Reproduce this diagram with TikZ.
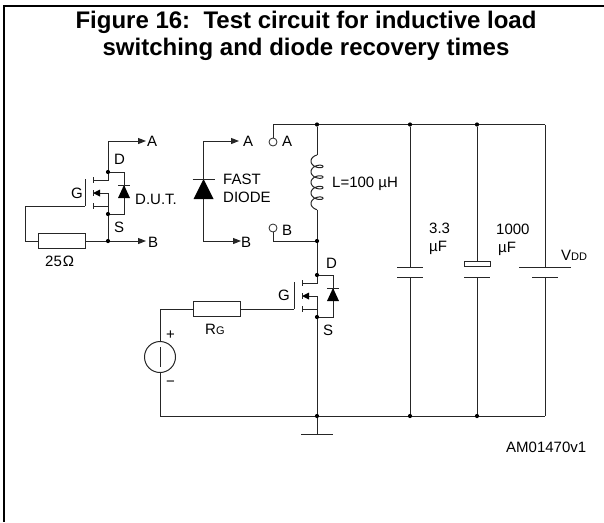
\documentclass[tikz,border=0pt]{standalone}
\usepackage{fontspec}
\setmainfont{Liberation Sans}
\usetikzlibrary{arrows.meta,calc}
\tikzset{
  wire/.style={draw=black!85,line width=1pt},
  arrowwire/.style={wire,-{Stealth[length=8pt,width=6pt,inset=0pt]}},
  frameline/.style={draw=black,line width=2pt},
  dot/.style={circle,fill=black,inner sep=0pt,minimum size=4.2pt},
  res/.style={rectangle,draw=black!85,line width=1pt,fill=white,minimum width=47pt,minimum height=15.5pt,inner sep=0pt},
  term/.style={circle,draw=black!85,line width=0.8pt,fill=white,minimum size=8pt,inner sep=0pt},
  src/.style={circle,draw=black!85,line width=1pt,minimum size=31pt,inner sep=0pt},
  lab/.style={anchor=base west,inner sep=0pt,font=\fontsize{15}{17}\selectfont},
  titletext/.style={inner sep=0pt,font=\fontsize{24}{27}\selectfont\bfseries,anchor=base},
  mos/.pic={
    \coordinate (-d) at (0,0);
    \coordinate (-s) at (0,42);
    \coordinate (-g) at (-23,34);
    \draw[wire] (0,0) -- (0,8) -- (-15,8);
    \draw[wire] (0,42) -- (0,34) -- (-15,34);
    \draw[wire] (0,34) -- (0,21) -- (-8,21);
    \fill[black] (-15,21) -- (-8,17.5) -- (-8,24.5) -- cycle;
    \draw[wire] (-15,5) -- (-15,11) (-15,18) -- (-15,24) (-15,31) -- (-15,37);
    \draw[wire] (-23,7) -- (-23,34);
    \draw[wire] (0,0) -- (16,0) -- (16,42) -- (0,42);
    \fill[black] (16,13) -- (10,26) -- (22,26) -- cycle;
    \draw[wire] (10,13) -- (22,13);
  }
}
\begin{document}
\begin{tikzpicture}[x=1pt,y=-1pt]
\useasboundingbox (0,0) rectangle (604,522);
% frame
\coordinate (fc) at (4,5.5);
\coordinate (fr) at (604,5.5);
\coordinate (fb) at (4,522);
\draw[frameline] (fr) -- (fc) -- (fb);
% title
\node[titletext] (t1) at (306,28) {Figure 16:\ \ Test circuit for inductive load};
\node[titletext] (t2) at (306,55) {switching and diode recovery times};

% D.U.T.
\pic (dut) at (108,172) {mos};
\node[dot] (dutD) at (dut-d) {};
\node[dot] (dutS) at (dut-s) {};
\node[dot] (dutJ) at (108,241) {};
\node[lab] (dutA) at (147,146) {A};
\node[lab] (dutB) at (148,247) {B};
\coordinate (dutAt) at (146,141);
\coordinate (dutBt) at (146,241);
\draw[arrowwire] (dutD) |- (dutAt);
\draw[wire] (dutS) -- (dutJ);
\draw[arrowwire] (dutJ) -- (dutBt);
\node[res] (r25) at (61.5,241) {};
\coordinate (dutC) at (25,206);
\draw[wire] (dut-g) -- (dutC) |- (r25);
\draw[wire] (r25) -- (dutJ);
\node[lab] (lD1) at (114,164) {D};
\node[lab] (lG1) at (71,198) {G};
\node[lab] (lS1) at (114,232) {S};
\node[lab] (lDUT) at (135,204) {D.U.T.};
\node[lab] (l25) at (45,266) {25\kern1ptΩ};

% fast diode
\coordinate (fdK) at (203.5,179);
\coordinate (fdA) at (203.5,199);
\coordinate (fdAt) at (239,141);
\coordinate (fdBt) at (241,241);
\draw[arrowwire] (fdK) |- (fdAt);
\draw[arrowwire] (fdA) |- (fdBt);
\fill[black] (fdK) -- ($(fdA)+(-10,0)$) -- ($(fdA)+(10,0)$) -- cycle;
\draw[wire] ($(fdK)+(-11,0)$) -- ($(fdK)+(11,0)$);
\node[lab] (fa) at (243,146) {A};
\node[lab] (fb2) at (241,247) {B};
\node[lab] (fast) at (223,184) {FAST};
\node[lab] (diode) at (223,202) {DIODE};

% rail and terminals
\node[dot] (jT) at (317,124.5) {};
\node[dot] (jT1) at (410,124.5) {};
\node[dot] (jT2) at (477,124.5) {};
\coordinate (jT3) at (545,124.5);
\node[term] (tA) at (273,142) {};
\node[term] (tB) at (273,228) {};
\node[dot] (jM) at (317,241) {};
\draw[wire] (tA) |- (jT);
\draw[wire] (jT) -- (jT1) -- (jT2) -- (jT3);
\draw[wire] (tB) |- (jM);
\node[lab] (la) at (282,146) {A};
\node[lab] (lb) at (282,235) {B};

% inductor
\coordinate (Lt) at (317,155);
\coordinate (Lb) at (317,210);
\draw[wire] (jT) -- (Lt);
\draw[wire] plot[smooth,domain=0:1620,samples=181] ({317-6*sin(\x)},{158.5+\x/34-3.5*cos(\x)});
\draw[wire] (Lb) -- (jM);
\node[lab] (lL) at (332,187) {L=100 µH};

% main MOSFET
\pic (q) at (317,275) {mos};
\node[dot] (qD) at (q-d) {};
\node[dot] (qS) at (q-s) {};
\draw[wire] (jM) -- (qD);
\node[lab] (lD2) at (326,268) {D};
\node[lab] (lG2) at (278,300) {G};
\node[lab] (lS2) at (323,335) {S};

% gate circuit
\node[res] (rg) at (216.5,309) {};
\node[src] (vs) at (160,357) {};
\coordinate (vsC) at (160,309);
\coordinate (gnC) at (160,416);
\draw[wire] (q-g) -- (rg);
\draw[wire] (rg) -- (vsC) -- (vs);
\draw[wire] (vs) -- (gnC);
\draw[wire] ($(vs)+(0,-10)$) -- ($(vs)+(0,10)$);
\node[lab] (lR) at (205,334) {R{\fontsize{11}{13}\selectfont G}};
\node[lab] (lp) at (166,339) {+};
\node[lab] (lm) at (166,386) {−};

% ground rail
\node[dot] (jB) at (317,416) {};
\node[dot] (jB1) at (410,416) {};
\node[dot] (jB2) at (477,416) {};
\coordinate (jB3) at (545,416);
\coordinate (gnd) at (317,434);
\draw[wire] (qS) -- (jB);
\draw[wire] (gnC) -- (jB) -- (jB1) -- (jB2) -- (jB3);
\draw[wire] (jB) -- (gnd);
\draw[wire] ($(gnd)+(-16,0)$) -- ($(gnd)+(16,0)$);

% 3.3 uF
\coordinate (c1t) at (410,267);
\coordinate (c1b) at (410,277);
\draw[wire] (jT1) -- (c1t);
\draw[wire] (c1b) -- (jB1);
\draw[wire] ($(c1t)+(-13,0)$) -- ($(c1t)+(13,0)$);
\draw[wire] ($(c1b)+(-13,0)$) -- ($(c1b)+(13,0)$);
\node[lab] (l33) at (429,233) {3.3};
\node[lab] (l33u) at (429,251) {µF};

% 1000 uF
\node[rectangle,draw=black!85,line width=1pt,minimum width=26pt,minimum height=5.5pt,inner sep=0pt] (c2) at (477,264) {};
\coordinate (c2b) at (477,277);
\draw[wire] (jT2) -- (c2);
\draw[wire] (c2b) -- (jB2);
\draw[wire] ($(c2b)+(-13,0)$) -- ($(c2b)+(13,0)$);
\node[lab] (l1000) at (496,234) {1000};
\node[lab] (l1000u) at (498,252) {µF};

% VDD
\coordinate (c3t) at (545,267);
\coordinate (c3b) at (545,277);
\draw[wire] (jT3) -- (c3t);
\draw[wire] (c3b) -- (jB3);
\draw[wire] ($(c3t)+(-26,0)$) -- ($(c3t)+(26,0)$);
\draw[wire] ($(c3b)+(-13,0)$) -- ($(c3b)+(13,0)$);
\node[lab] (lV) at (561,260) {V{\fontsize{11}{13}\selectfont DD}};

\node[lab] (lam) at (506,452) {AM01470v1};
\end{tikzpicture}
\end{document}
